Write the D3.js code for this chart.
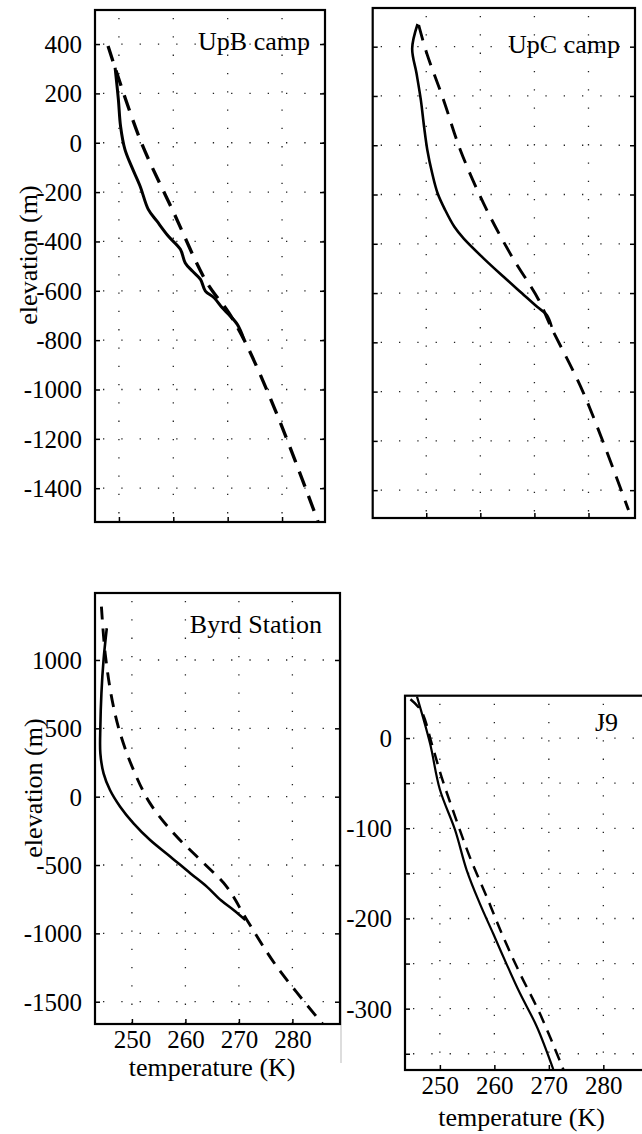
<!DOCTYPE html>
<html>
<head>
<meta charset="utf-8">
<script src="https://cdn.jsdelivr.net/npm/d3@7"></script>
<style>
  html, body { margin: 0; padding: 0; background: #fff; }
  svg { display: block; }
</style>
</head>
<body>
<svg id="chart" width="642" height="1134"></svg>
<script>
// ---------------- DATA ----------------
// UpB camp
const upbSolidT = [249.3, 249.9, 250.3, 251.1, 252.3, 253.9, 255.4, 257.0, 259.1, 261.3, 262.2, 263.5, 265.0, 265.9, 267.5, 269.0, 270.2, 271.8, 273.0];
const upbSolidZ = [304, 175, 67, -27, -95, -176, -270, -318, -379, -432, -487, -520, -554, -601, -628, -669, -696, -737, -797];
const upbDashT = [248.0, 253.9, 260.1, 266.2, 270.2, 273.3, 279.2, 286.6];
const upbDashZ = [392, 13, -284, -568, -689, -811, -1108, -1534];

// UpC camp
const upcSolidT = [248.4, 247.4, 248.2, 249.0, 249.6, 250.2, 251.1, 252.1, 253.5, 255.2, 256.9, 260.6, 264.3, 267.7, 270.5, 272.3, 273.2];
const upcSolidZ = [492, 393, 292, 184, 75, -19, -114, -195, -263, -331, -378, -459, -534, -601, -656, -689, -737];
const upcDashT = [248.6, 250.1, 253.2, 256.3, 260.6, 265.5, 270.8, 272.9, 279.1, 287.4];
const upcDashZ = [488, 373, 184, -19, -236, -439, -628, -730, -1007, -1481];

// Byrd Station
const byrdSolidT = [245.3, 244.7, 244.3, 244.1, 244.1, 244.7, 245.9, 247.8, 250.3, 253.4, 257.2, 260.9, 264.0, 266.7, 269.0, 271.2];
const byrdSolidZ = [1232, 1000, 756, 512, 317, 171, 49, -73, -195, -317, -439, -560, -658, -760, -829, -902];
const byrdDashT = [244.3, 245.0, 246.3, 247.8, 250.3, 253.4, 257.8, 262.8, 267.7, 271.5, 277.1, 285.8];
const byrdDashZ = [1390, 1049, 707, 464, 195, -49, -268, -463, -658, -902, -1244, -1670];

// J9
const j9SolidT = [245.8, 248.2, 250.0, 252.8, 254.9, 257.3, 259.8, 262.2, 264.7, 267.8, 270.8];
const j9SolidZ = [46, -6, -57, -102, -146, -183, -217, -250, -283, -320, -367];
const j9DashT = [244.6, 246.6, 248.5, 250.3, 252.8, 255.5, 258.6, 261.6, 264.7, 268.4, 272.7];
const j9DashZ = [43, 30, -6, -43, -87, -132, -176, -220, -261, -306, -368];

// Ticks & labels
const tempTicks = [250, 260, 270, 280];
const upTicks = [400, 200, 0, -200, -400, -600, -800, -1000, -1200, -1400];
const byrdTicks = [1000, 500, 0, -500, -1000, -1500];
const j9Ticks = [0, -50, -100, -150, -200, -250, -300, -350];
const j9Labels = [0, -100, -200, -300];
const titles = ["UpB camp", "UpC camp", "Byrd Station", "J9"];
const xLabel = "temperature (K)";
const yLabel = "elevation (m)";

// ---------------- LAYOUT ----------------
const FONT = '"Liberation Serif", "Times New Roman", Times, serif';
const panels = [
  { title: titles[0], x0: 95, x1: 325, y0: 10, y1: 522, xd: [245.6, 287.9], yd: [-1537, 538],
    yTicks: upTicks, yLabels: upTicks, xLabels: false, xlabOff: 0, ylab: { x: 37, y: 255 },
    titlePos: { dx: -15, y: 50 }, solid: [upbSolidT, upbSolidZ], dash: [upbDashT, upbDashZ], dashArr: "16,10", sw: 3 },
  { title: titles[1], x0: 372.7, x1: 635, y0: 8, y1: 518, xd: [240.1, 288.6], yd: [-1513, 557],
    yTicks: upTicks, yLabels: [], xLabels: false, xlabOff: 0, ylab: null,
    titlePos: { dx: -15, y: 53 }, solid: [upcSolidT, upcSolidZ], dash: [upcDashT, upcDashZ], dashArr: "16,10", sw: 2.6 },
  { title: titles[2], x0: 95, x1: 340, y0: 593, y1: 1024, xd: [243.1, 288.9], yd: [-1663, 1490],
    yTicks: byrdTicks, yLabels: byrdTicks, xLabels: true, xlabOff: 52, ylab: { x: 42, y: 788 },
    titlePos: { dx: -18, y: 633 }, solid: [byrdSolidT, byrdSolidZ], dash: [byrdDashT, byrdDashZ], dashArr: "13,9", sw: 2.6 },
  { title: titles[3], x0: 405, x1: 660, y0: 695.7, y1: 1070, xd: [243.6, 290.4], yd: [-368, 47],
    yTicks: j9Ticks, yLabels: j9Labels, xLabels: true, xlabOff: 56, ylab: null,
    titlePos: { dx: -42, y: 731 }, solid: [j9SolidT, j9SolidZ], dash: [j9DashT, j9DashZ], dashArr: "12,8", sw: 2.2 }
];

const svg = d3.select("#chart");
svg.append("rect").attr("width", 642).attr("height", 1134).attr("fill", "#fff");

// faint scan edge line
svg.append("line").attr("x1", 341).attr("x2", 341).attr("y1", 630).attr("y2", 1063)
  .attr("stroke", "#bbb").attr("stroke-width", 1);

const fmt = d => String(d);

panels.forEach((p, i) => {
  const x = d3.scaleLinear().domain(p.xd).range([p.x0, p.x1]);
  const y = d3.scaleLinear().domain(p.yd).range([p.y1, p.y0]);
  const g = svg.append("g");
  const clipId = "clip" + i;
  g.append("clipPath").attr("id", clipId).append("rect")
    .attr("x", p.x0).attr("y", p.y0).attr("width", p.x1 - p.x0).attr("height", p.y1 - p.y0);

  // dotted grid
  const grid = g.append("g").attr("stroke", "#222").attr("stroke-width", 1.3)
    .attr("stroke-dasharray", "1.3,17").attr("clip-path", `url(#${clipId})`);
  tempTicks.forEach(t => grid.append("line").attr("x1", x(t)).attr("x2", x(t)).attr("y1", p.y0 + 8).attr("y2", p.y1));
  p.yTicks.forEach(t => grid.append("line").attr("x1", p.x0 + 8).attr("x2", p.x1).attr("y1", y(t)).attr("y2", y(t)));

  // axes with inward ticks
  const left = d3.axisLeft(y).tickValues(p.yTicks).tickSizeInner(-5).tickSizeOuter(0)
    .tickFormat(d => p.yLabels.includes(d) ? fmt(d) : "").tickPadding(13);
  const ga = g.append("g").attr("transform", `translate(${p.x0},0)`).call(left);
  ga.select(".domain").remove();
  ga.selectAll("line").attr("stroke", "#000").attr("stroke-width", 1.5);
  ga.selectAll("text").attr("font-size", 25).attr("dy", "0.34em");

  const right = d3.axisRight(y).tickValues(p.yTicks).tickSizeInner(-5).tickSizeOuter(0).tickFormat("");
  const gr = g.append("g").attr("transform", `translate(${p.x1},0)`).call(right);
  gr.select(".domain").remove();
  gr.selectAll("line").attr("stroke", "#000").attr("stroke-width", 1.5);

  const bottom = d3.axisBottom(x).tickValues(tempTicks).tickSizeInner(-5).tickSizeOuter(0)
    .tickFormat(p.xLabels ? fmt : "").tickPadding(6);
  const gb = g.append("g").attr("transform", `translate(0,${p.y1})`).call(bottom);
  gb.select(".domain").remove();
  gb.selectAll("line").attr("stroke", "#000").attr("stroke-width", 1.5);
  gb.selectAll("text").attr("font-size", 25).attr("dy", "0.71em");

  // frame
  g.append("rect").attr("x", p.x0).attr("y", p.y0).attr("width", p.x1 - p.x0).attr("height", p.y1 - p.y0)
    .attr("fill", "none").attr("stroke", "#000").attr("stroke-width", 2.2);

  // curves
  const line = d3.line().x(d => x(d[0])).y(d => y(d[1])).curve(d3.curveCatmullRom.alpha(0.5));
  const solidPts = p.solid[0].map((t, k) => [t, p.solid[1][k]]);
  const dashPts = p.dash[0].map((t, k) => [t, p.dash[1][k]]);
  const cg = g.append("g").attr("clip-path", `url(#${clipId})`);
  cg.append("path").attr("d", line(dashPts)).attr("fill", "none").attr("stroke", "#000")
    .attr("stroke-width", p.sw + 0.3).attr("stroke-dasharray", p.dashArr);
  cg.append("path").attr("d", line(solidPts)).attr("fill", "none").attr("stroke", "#000")
    .attr("stroke-width", p.sw).attr("stroke-linejoin", "round");

  // title
  g.append("text").attr("x", p.x1 + p.titlePos.dx).attr("y", p.titlePos.y)
    .attr("text-anchor", "end").attr("font-size", 26).text(p.title);

  // x label
  if (p.xLabels) {
    g.append("text").attr("x", x(265)).attr("y", p.y1 + p.xlabOff)
      .attr("text-anchor", "middle").attr("font-size", 26).text(xLabel);
  }
  // y label
  if (p.ylab) {
    g.append("text").attr("transform", `translate(${p.ylab.x},${p.ylab.y}) rotate(-90)`)
      .attr("text-anchor", "middle").attr("font-size", 26).text(yLabel);
  }
});

svg.selectAll("g").attr("font-family", null);
svg.selectAll("text").style("font-family", FONT).attr("fill", "#000");
</script>
</body>
</html>
